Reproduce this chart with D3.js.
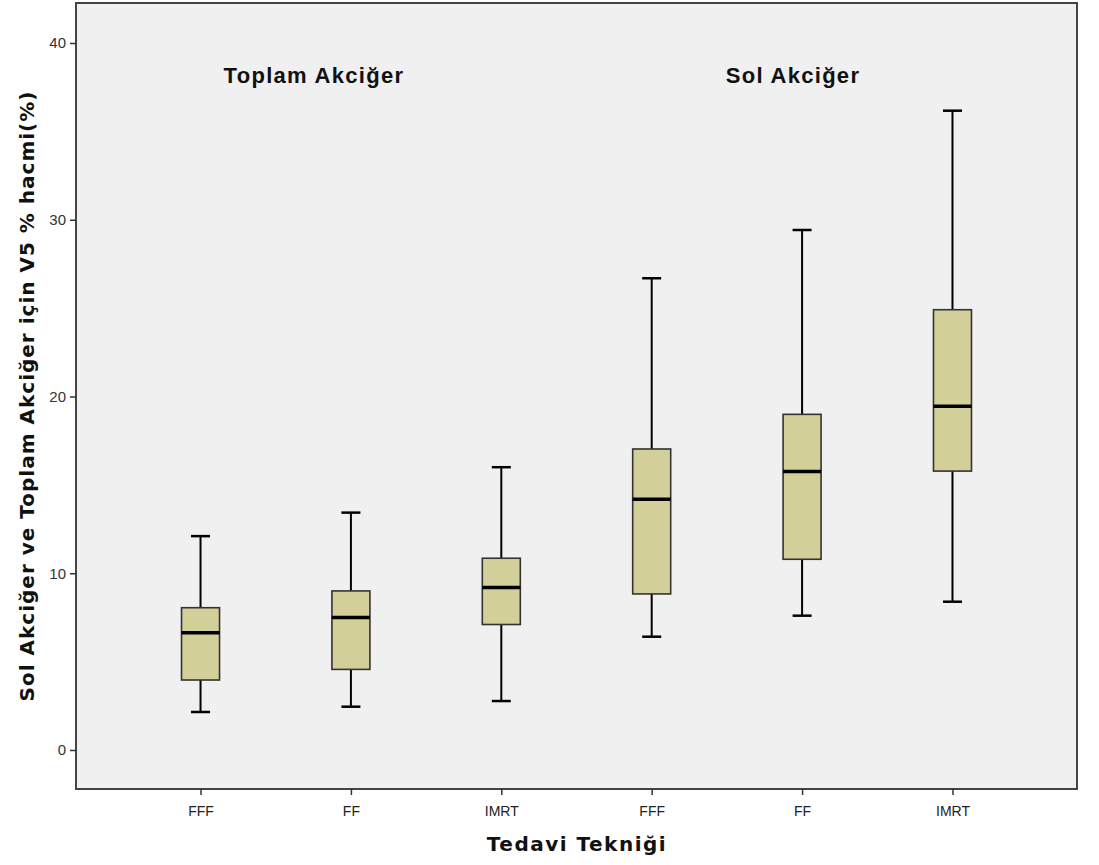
<!DOCTYPE html>
<html>
<head>
<meta charset="utf-8">
<script src="https://cdn.jsdelivr.net/npm/d3@7"></script>
<style>
  html, body { margin: 0; padding: 0; background: #fff; }
  svg { display: block; }
</style>
</head>
<body>
<svg id="chart" width="1099" height="865"></svg>
<script>
// ---- data ----
const categories = ["FFF", "FF", "IMRT", "FFF", "FF", "IMRT"];
const whiskerLow  = [2.15, 2.45, 2.77, 6.41, 7.60, 8.39];
const q1          = [3.96, 4.56, 7.10, 8.83, 10.79, 15.78];
const medians     = [6.64, 7.49, 9.20, 14.18, 15.75, 19.45];
const q3          = [8.05, 9.00, 10.85, 17.03, 18.99, 24.91];
const whiskerHigh = [12.10, 13.43, 16.00, 26.69, 29.42, 36.17];
const yTicks = [0, 10, 20, 30, 40];
const groupLabels = ["Toplam Akciğer", "Sol Akciğer"];
const xTitle = "Tedavi Tekniği";
const yTitle = "Sol Akciğer ve Toplam Akciğer için V5 % hacmi(%)";

const boxes = categories.map((c, i) => ({
  key: i, cat: c, lo: whiskerLow[i], q1: q1[i], med: medians[i], q3: q3[i], hi: whiskerHigh[i]
}));

// ---- layout ----
const svg = d3.select("#chart");
const plot = { left: 76, top: 3, right: 1077, bottom: 789 };

const x = d3.scalePoint()
  .domain(boxes.map(d => d.key))
  .range([plot.left, plot.right])
  .padding(0.828);

const y = d3.scaleLinear()
  .domain([0, 40])
  .range([750, 43]);

const boxW = 38, capW = 19;

// plot background
svg.append("rect")
  .attr("x", plot.left).attr("y", plot.top)
  .attr("width", plot.right - plot.left).attr("height", plot.bottom - plot.top)
  .attr("fill", "#f0f0f0")
  .attr("stroke", "#444").attr("stroke-width", 2);

// y axis
const yAxis = svg.append("g")
  .attr("transform", `translate(${plot.left},0)`)
  .call(d3.axisLeft(y).tickValues(yTicks).tickSize(6).tickPadding(4).tickFormat(d3.format("d")));
yAxis.select(".domain").remove();
yAxis.selectAll(".tick line").attr("stroke", "#333").attr("stroke-width", 1.5);
yAxis.selectAll(".tick text")
  .attr("fill", "#333").attr("font-family", "Arial, 'Liberation Sans', sans-serif").attr("font-size", 15);

// x axis
const xAxis = svg.append("g")
  .attr("transform", `translate(0,${plot.bottom})`)
  .call(d3.axisBottom(x).tickSize(6).tickPadding(8).tickFormat(k => categories[k]));
xAxis.select(".domain").remove();
xAxis.selectAll(".tick line").attr("stroke", "#333").attr("stroke-width", 1.5);
xAxis.selectAll(".tick text")
  .attr("fill", "#222").attr("font-family", "Arial, 'Liberation Sans', sans-serif").attr("font-size", 14)
  .attr("dy", "0.9em");

// boxes
const g = svg.append("g");
const bx = g.selectAll("g.box").data(boxes).join("g").attr("class", "box");

// whiskers
bx.append("line")
  .attr("x1", d => x(d.key)).attr("x2", d => x(d.key))
  .attr("y1", d => y(d.hi)).attr("y2", d => y(d.q3))
  .attr("stroke", "#000").attr("stroke-width", 2);
bx.append("line")
  .attr("x1", d => x(d.key)).attr("x2", d => x(d.key))
  .attr("y1", d => y(d.q1)).attr("y2", d => y(d.lo))
  .attr("stroke", "#000").attr("stroke-width", 2);
// caps
bx.append("line")
  .attr("x1", d => x(d.key) - capW / 2).attr("x2", d => x(d.key) + capW / 2)
  .attr("y1", d => y(d.hi)).attr("y2", d => y(d.hi))
  .attr("stroke", "#000").attr("stroke-width", 2.5);
bx.append("line")
  .attr("x1", d => x(d.key) - capW / 2).attr("x2", d => x(d.key) + capW / 2)
  .attr("y1", d => y(d.lo)).attr("y2", d => y(d.lo))
  .attr("stroke", "#000").attr("stroke-width", 2.5);
// box
bx.append("rect")
  .attr("x", d => x(d.key) - boxW / 2).attr("width", boxW)
  .attr("y", d => y(d.q3)).attr("height", d => y(d.q1) - y(d.q3))
  .attr("fill", "#d3cf98").attr("stroke", "#333").attr("stroke-width", 1.6);
// median
bx.append("line")
  .attr("x1", d => x(d.key) - boxW / 2).attr("x2", d => x(d.key) + boxW / 2)
  .attr("y1", d => y(d.med)).attr("y2", d => y(d.med))
  .attr("stroke", "#000").attr("stroke-width", 3.5);

// group labels
const groupCenters = [314, 793];
svg.selectAll("text.group").data(groupLabels).join("text")
  .attr("class", "group")
  .attr("x", (d, i) => groupCenters[i]).attr("y", 83)
  .attr("text-anchor", "middle")
  .attr("font-family", "Arial, 'Liberation Sans', sans-serif")
  .attr("font-weight", "bold").attr("font-size", 22).attr("letter-spacing", 1.3)
  .attr("fill", "#111")
  .text(d => d);

// axis titles
svg.append("text")
  .attr("x", 577).attr("y", 851)
  .attr("text-anchor", "middle")
  .attr("font-family", "'DejaVu Sans', Verdana, sans-serif")
  .attr("font-weight", "bold").attr("font-size", 20).attr("letter-spacing", 1.5).attr("fill", "#111")
  .text(xTitle);

svg.append("text")
  .attr("transform", "translate(34,396) rotate(-90)")
  .attr("text-anchor", "middle")
  .attr("font-family", "'DejaVu Sans', Verdana, sans-serif")
  .attr("font-weight", "bold").attr("font-size", 20).attr("letter-spacing", 1).attr("fill", "#111")
  .text(yTitle);
</script>
</body>
</html>
